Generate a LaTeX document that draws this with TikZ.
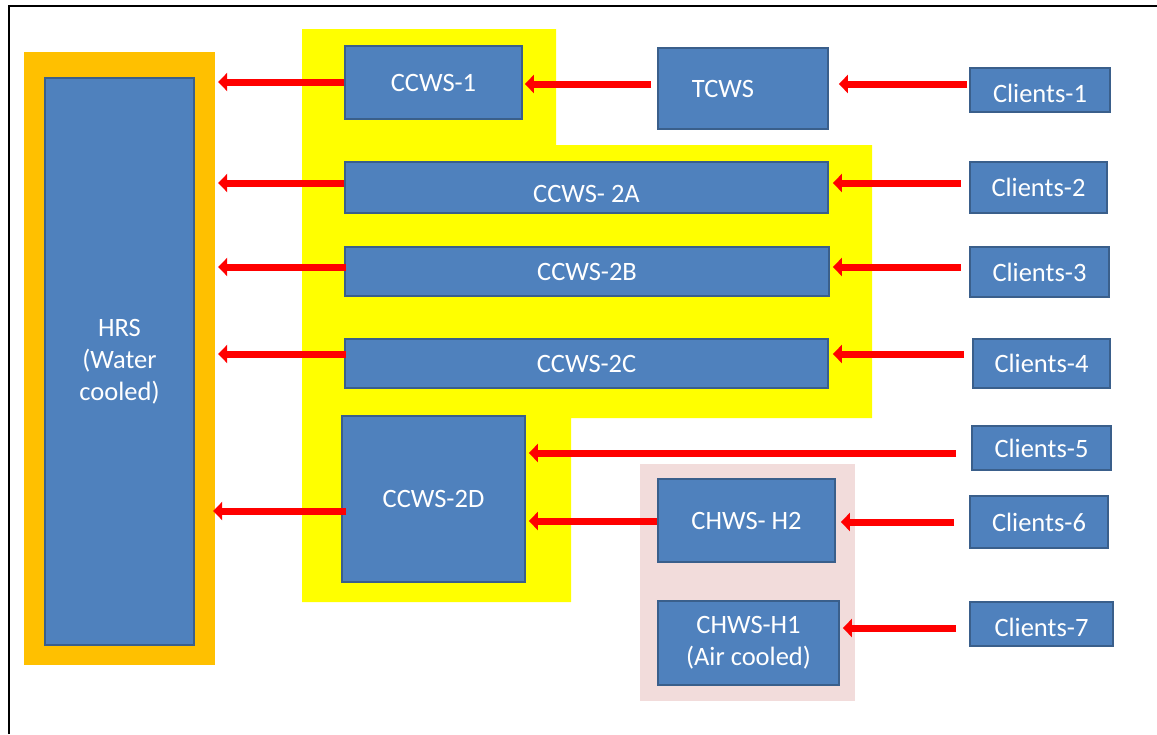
\documentclass[tikz,border=0pt]{standalone}
\usepackage{fontspec}
\setmainfont{Carlito}
\usetikzlibrary{arrows.meta,calc}
\definecolor{boxblue}{HTML}{4F81BD}
\definecolor{boxedge}{HTML}{3A5F8B}
\definecolor{hrsorange}{HTML}{FFC000}
\definecolor{grpyellow}{HTML}{FFFF00}
\definecolor{grppink}{HTML}{F2DCDB}
\definecolor{arrred}{HTML}{FF0000}
\tikzset{
  bluebox/.style={draw=boxedge, line width=1.8pt, fill=boxblue, text=white,
    inner sep=0pt, align=center, font=\fontsize{26.5}{32}\selectfont},
  flow/.style={draw=arrred, line width=7pt, -{Triangle[length=9pt,width=18pt]}},
}
\begin{document}
\begin{tikzpicture}[x=1pt,y=-1pt]
\useasboundingbox (0,0) rectangle (1157,734);
% frame
\draw[line width=1.5pt] (9,734) -- (9,6) -- (1157,6);
% group backgrounds
\fill[hrsorange] (24,52) rectangle (215,665);
\node[inner sep=0pt, minimum width=191pt, minimum height=613pt] (hrsbg) at (119.5,358.5) {};
\fill[grpyellow] (302,29) -- (556,29) -- (556,145) -- (872,145) -- (872,418) -- (571,418) -- (571,602) -- (302,602) -- cycle;
\fill[grppink] (640,464) rectangle (855,701);
% boxes
\node[bluebox, minimum width=149pt, minimum height=567pt] (hrs) at (119.5,361.5) {HRS\\(Water\\cooled)};
\node[bluebox, minimum width=177pt, minimum height=73pt] (ccws1) at (433.5,82.5) {CCWS-1};
\node[bluebox, minimum width=170pt, minimum height=81pt] (tcws) at (743,88.5) {TCWS\hspace{40pt}};
\node[bluebox, minimum width=140pt, minimum height=44pt] (cl1) at (1040,90) {\raisebox{-3pt}[\height][\depth]{Clients-1}};
\node[bluebox, minimum width=483pt, minimum height=51pt] (ccws2a) at (586.5,187.5) {\raisebox{-6pt}[\height][\depth]{CCWS- 2A}};
\node[bluebox, minimum width=137pt, minimum height=51pt] (cl2) at (1038.5,187.5) {Clients-2};
\node[bluebox, minimum width=484pt, minimum height=49pt] (ccws2b) at (587,271.5) {CCWS-2B};
\node[bluebox, minimum width=139pt, minimum height=50pt] (cl3) at (1039.5,272) {Clients-3};
\node[bluebox, minimum width=483pt, minimum height=49pt] (ccws2c) at (586.5,363.5) {CCWS-2C};
\node[bluebox, minimum width=137pt, minimum height=49pt] (cl4) at (1041.5,363.5) {Clients-4};
\node[bluebox, minimum width=183pt, minimum height=166pt] (ccws2d) at (433.5,499) {CCWS-2D};
\node[bluebox, minimum width=139pt, minimum height=44pt] (cl5) at (1041.5,448) {Clients-5};
\node[bluebox, minimum width=177pt, minimum height=83pt] (chwsh2) at (746.5,520.5) {CHWS- H2};
\node[bluebox, minimum width=138pt, minimum height=52pt] (cl6) at (1039,522) {Clients-6};
\node[bluebox, minimum width=181pt, minimum height=84pt] (chwsh1) at (748.5,643) {CHWS-H1\\(Air cooled)};
\node[bluebox, minimum width=143pt, minimum height=44pt] (cl7) at (1041.5,624) {\raisebox{-3pt}[\height][\depth]{Clients-7}};
% arrows
\draw[flow, shorten >=3pt] ([yshift=0.5pt]ccws1.west) -- ([yshift=0.5pt]ccws1.west -| hrsbg.east);
\draw[flow, shorten <=6pt, shorten >=2pt] ([yshift=4.5pt]tcws.west) -- ([yshift=4.5pt]tcws.west -| ccws1.east);
\draw[flow, shorten <=2pt, shorten >=10pt] ([yshift=6pt]cl1.west) -- ([yshift=6pt]cl1.west -| tcws.east);
\draw[flow, shorten >=3pt] ([yshift=4.5pt]ccws2a.west) -- ([yshift=4.5pt]ccws2a.west -| hrsbg.east);
\draw[flow, shorten <=8pt, shorten >=4pt] ([yshift=4.5pt]cl2.west) -- ([yshift=4.5pt]cl2.west -| ccws2a.east);
\draw[flow, shorten <=-2pt, shorten >=3pt] ([yshift=4.5pt]ccws2b.west) -- ([yshift=4.5pt]ccws2b.west -| hrsbg.east);
\draw[flow, shorten <=8pt, shorten >=3pt] ([yshift=5pt]cl3.west) -- ([yshift=5pt]cl3.west -| ccws2b.east);
\draw[flow, shorten <=-2pt, shorten >=3pt] ([yshift=9.5pt]ccws2c.west) -- ([yshift=9.5pt]ccws2c.west -| hrsbg.east);
\draw[flow, shorten <=8pt, shorten >=4pt] ([yshift=9.5pt]cl4.west) -- ([yshift=9.5pt]cl4.west -| ccws2c.east);
\draw[flow, shorten <=15pt, shorten >=3pt] ([yshift=-5pt]cl5.west) -- ([yshift=-5pt]cl5.west -| ccws2d.east);
\draw[flow, shorten <=-5pt, shorten >=-2pt] ([yshift=-12pt]ccws2d.west) -- ([yshift=-12pt]ccws2d.west -| hrsbg.east);
\draw[flow, shorten >=3pt] ([yshift=-0.5pt]chwsh2.west) -- ([yshift=-0.5pt]chwsh2.west -| ccws2d.east);
\draw[flow, shorten <=15pt, shorten >=5pt] (cl6.west) -- (cl6.west -| chwsh2.east);
\draw[flow, shorten <=13pt, shorten >=3pt] ([yshift=-4pt]cl7.west) -- ([yshift=-4pt]cl7.west -| chwsh1.east);
\end{tikzpicture}
\end{document}
